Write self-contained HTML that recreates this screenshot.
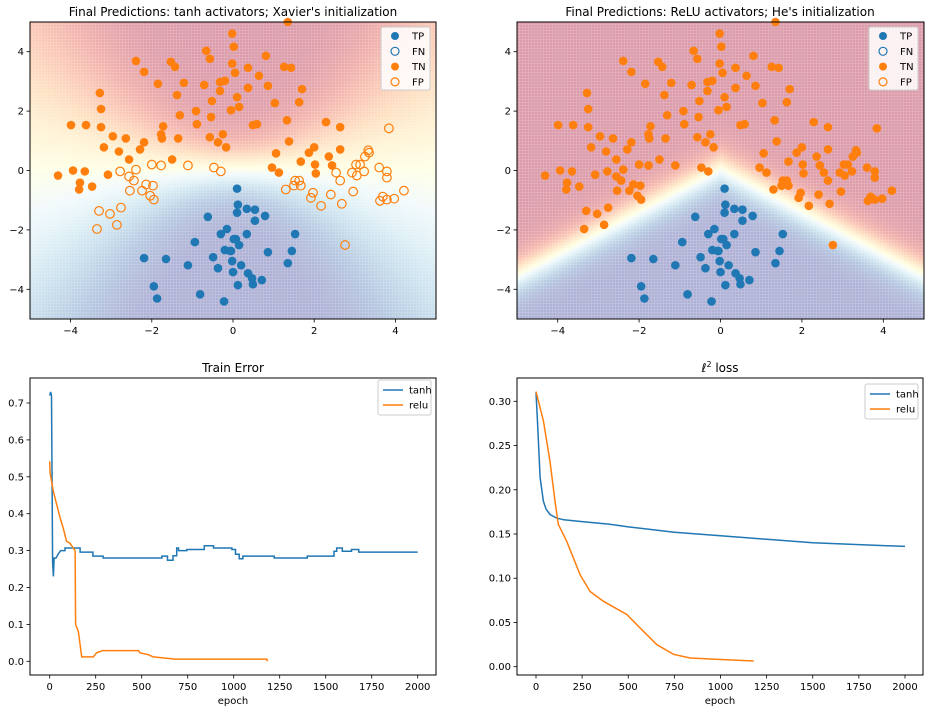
<!DOCTYPE html>
<html><head><meta charset="utf-8">
<style>
body{margin:0;background:#fff;}
#wrap{position:relative;width:930px;height:713px;overflow:hidden;font-family:"DejaVu Sans","Liberation Sans",sans-serif;}
canvas{position:absolute;}
svg{position:absolute;left:0;top:0;}
text{font-family:"DejaVu Sans","Liberation Sans",sans-serif;fill:#000;}
</style></head>
<body>
<div id="wrap">
<canvas id="bg1" width="406" height="297" style="left:30px;top:22px"></canvas>
<canvas id="bg2" width="407" height="297" style="left:517px;top:22px"></canvas>
<svg id="svg" width="930" height="713" xmlns="http://www.w3.org/2000/svg"></svg>
</div>
<script>
// ---- scatter data ----
const blueX=[0.1,0.12,0.1,0.34,0.54,0.54,0.79,0.34,1.53,0.07,0.15,0.86,1.45,1.35,-0.05,-0.02,0.2,0.0,0.37,0.47,0.49,0.71,0.12,-0.62,-0.3,-0.15,0.02,-0.94,-0.2,-0.07,-0.49,-0.37,-1.11,-1.65,-2.19,-1.95,-1.87,-0.81,-0.22];
const blueY=[-0.61,-1.15,-1.42,-1.29,-1.32,-1.69,-1.53,-2.14,-2.14,-2.31,-2.51,-2.75,-2.71,-3.12,-2.71,-3.05,-3.19,-3.42,-3.46,-3.63,-3.83,-3.69,-3.86,-1.56,-2.14,-1.97,-2.31,-2.41,-2.68,-2.71,-2.92,-3.29,-3.19,-2.98,-2.95,-3.9,-4.31,-4.17,-4.41];
const tnX=[0.96,1.13,1.06,1.38,1.67,1.87,2.0,2.02,2.04,2.36,2.44,2.64,2.29,2.64,1.33,1.63,1.7,1.03,0.86,0.64,0.81,1.26,1.43,1.35,0.37,0.37,0.1,0.15,0.49,0.59,0.05,-0.02,0.02,-0.02,-0.05,-0.66,-0.57,-2.39,-2.19,-1.53,-1.43,-1.85,-1.21,-0.71,-0.32,-0.2,-0.32,-1.38,-0.52,-0.91,-1.31,-0.54,-0.89,-3.28,-3.25,-3.99,-3.62,-3.25,-1.72,-1.77,-1.75,-1.35,-0.57,-0.25,-0.37,-0.17,-2.96,-2.64,-3.18,-2.81,-2.19,-2.29,-2.56,-1.5,-4.31,-3.94,-3.65,-3.77,-3.79,-3.47,-3.08];
const tnY=[0.1,-0.07,0.58,0.98,0.3,0.6,0.78,0.2,-0.1,0.47,0.17,0.71,1.63,1.46,1.69,2.3,2.74,2.27,2.85,3.19,3.86,3.49,3.46,5.0,3.46,2.78,2.47,2.14,1.53,1.56,3.29,3.6,4.17,4.61,2.03,4.03,3.76,3.69,3.32,3.66,3.49,2.92,2.95,2.88,2.98,3.02,2.68,2.54,2.34,2.0,1.86,1.8,1.56,2.61,2.07,1.53,1.53,1.46,1.49,1.22,1.08,1.08,1.12,1.22,0.95,0.78,1.15,1.08,0.78,0.64,0.95,0.71,0.37,0.37,-0.17,0.0,-0.03,-0.41,-0.64,-0.54,-0.14];
const fpX=[3.84,3.33,3.35,3.25,3.03,3.13,2.93,3.05,3.23,3.6,3.79,3.79,2.54,2.64,1.53,1.63,1.5,1.67,1.3,1.97,1.92,2.41,2.17,2.68,2.96,3.62,3.69,3.79,3.97,4.21,2.76,-2.78,-2.39,-2.56,-2.44,-2.14,-1.97,-2.54,-2.24,-2.04,-1.95,-2.0,-1.77,-1.11,-0.47,-0.3,-3.3,-3.03,-2.76,-3.35,-2.86];
const fpY=[1.42,0.68,0.6,0.47,0.2,0.2,-0.07,-0.17,-0.03,0.1,-0.03,-0.24,-0.07,-0.34,-0.34,-0.34,-0.51,-0.51,-0.64,-0.75,-0.92,-0.81,-1.19,-1.12,-0.71,-1.02,-0.88,-0.98,-0.95,-0.68,-2.51,-0.03,0.03,-0.2,-0.34,-0.47,-0.51,-0.68,-0.68,-0.85,-0.98,0.2,0.17,0.17,0.1,-0.03,-1.36,-1.46,-1.25,-1.97,-1.83];
// ---- train error data ----
const errTanhE=[0,5,10,16,20,24,35,45,60,83,147,165,225,235,265,290,580,610,640,670,690,700,745,830,840,880,890,960,990,1010,1030,1050,1160,1220,1380,1400,1530,1545,1560,1580,1590,1620,1640,1670,1680,2000];
const errTanhV=[0.72,0.73,0.72,0.27,0.23,0.28,0.28,0.29,0.30,0.307,0.307,0.296,0.296,0.285,0.285,0.28,0.28,0.285,0.274,0.286,0.307,0.30,0.303,0.303,0.313,0.313,0.307,0.307,0.303,0.29,0.278,0.285,0.285,0.28,0.28,0.285,0.285,0.298,0.307,0.307,0.298,0.298,0.303,0.303,0.296,0.296];
const errReluE=[0,2,20,38,56,74,92,110,128,138,141,156,165,174,237,255,288,482,491,536,563,681,1180,1183];
const errReluV=[0.542,0.51,0.46,0.425,0.39,0.36,0.325,0.32,0.307,0.30,0.1,0.08,0.045,0.012,0.012,0.023,0.029,0.029,0.023,0.018,0.012,0.006,0.006,0.0];
// ---- loss data ----
const lossTanhE=[0,10,22,40,55,76,112,150,250,400,500,750,1000,1250,1500,1750,2000];
const lossTanhV=[0.31,0.27,0.214,0.187,0.178,0.172,0.168,0.166,0.164,0.161,0.158,0.152,0.148,0.144,0.14,0.138,0.136];
const lossReluE=[0,40,76,103,121,166,239,293,365,492,582,655,745,836,1016,1180];
const lossReluV=[0.311,0.278,0.232,0.187,0.161,0.142,0.104,0.085,0.074,0.059,0.04,0.025,0.014,0.0098,0.008,0.0064];
const xTicksTop=[-4,-2,0,2,4], yTicksTop=[-4,-2,0,2,4];
const errTicks=[0,0.1,0.2,0.3,0.4,0.5,0.6,0.7];
const lossTicks=[0,0.05,0.10,0.15,0.20,0.25,0.30];
const epochTicks=[0,250,500,750,1000,1250,1500,1750,2000];

const svg=document.getElementById('svg');
const NS='http://www.w3.org/2000/svg';
function el(tag,attrs,parent){const e=document.createElementNS(NS,tag);for(const k in attrs)e.setAttribute(k,attrs[k]);(parent||svg).appendChild(e);return e;}
const BLUE='#1f77b4',ORANGE='#ff7f0e';

const stops=['#a50026','#d73027','#f46d43','#fdae61','#fee090','#ffffbf','#e0f3f8','#abd9e9','#74add1','#4575b4','#313695'].map(h=>[parseInt(h.slice(1,3),16),parseInt(h.slice(3,5),16),parseInt(h.slice(5,7),16)]);
function cmap(t){t=Math.max(0,Math.min(1,t))*10;const i=Math.min(9,Math.floor(t)),f=t-i;return stops[i].map((v,k)=>v+(stops[i+1][k]-v)*f);}
function paint(id,W,H,score){
  const c=document.getElementById(id),ctx=c.getContext('2d'),img=ctx.createImageData(W,H);
  for(let py=0;py<H;py++)for(let px=0;px<W;px++){
    const x=-5+10*px/W,y=5-10*py/H;const t=1/(1+Math.exp(score(x,y)));
    const col=cmap(t);const dot=((px%3)<2&&(py%3)<2)?0.42:0.30;
    const i=(py*W+px)*4;for(let k=0;k<3;k++)img.data[i+k]=col[k]*dot+255*(1-dot);img.data[i+3]=255;}
  ctx.putImageData(img,0,0);
}
paint('bg1',406,297,(x,y)=>2*(y-0.1)/(1+0.25*x*x));
paint('bg2',407,297,(x,y)=>2.8*(y-(0.1-0.72*Math.abs(x))));

function axesFrame(x0,y0,x1,y1,name){el('rect',{x:x0,y:y0,width:x1-x0,height:y1-y0,fill:'none',stroke:'#000','stroke-width':1,});}
function xtick(px,y,label){el('line',{x1:px,x2:px,y1:y,y2:y+3.5,stroke:'#000','stroke-width':0.8});const t=el('text',{x:px,y:y+15,'font-size':10,'text-anchor':'middle'});t.textContent=label;}
function ytick(x,py,label){el('line',{x1:x,x2:x-3.5,y1:py,y2:py,stroke:'#000','stroke-width':0.8});const t=el('text',{x:x-6,y:py+3.5,'font-size':10,'text-anchor':'end'});t.textContent=label;}
function title(x,y,s,name){const t=el('text',{x:x,y:y,'font-size':12,'text-anchor':'middle',});t.textContent=s;return t;}

function scatterPanel(x0,x1,tanh){
  const y0=22,y1=319;
  const sx=v=>x0+(v+5)/10*(x1-x0), sy=v=>y1-(v+5)/10*(y1-y0);
  const g=el('g',{});
  function dot(x,y,color,filled,name){const c=el('circle',{cx:sx(x),cy:sy(y),r:4.3,fill:filled?color:'none',stroke:color,'stroke-width':filled?0:1.2},g);}
  blueX.forEach((v,i)=>dot(v,blueY[i],BLUE,true,'tp-point'));
  tnX.forEach((v,i)=>dot(v,tnY[i],ORANGE,true,'tn-point'));
  fpX.forEach((v,i)=>dot(v,fpY[i],ORANGE,!tanh,tanh?'fp-point':'tn-point'));
  axesFrame(x0,y0,x1,y1,tanh?'tanh-axes':'relu-axes');
  xTicksTop.forEach(v=>xtick(sx(v),y1,String(v).replace('-','\u2212')));
  yTicksTop.forEach(v=>ytick(x0,sy(v),String(v).replace('-','\u2212')));
  const lx=x1-55,ly=27;
  el('rect',{x:lx,y:ly,width:49,height:63,fill:'#fff','fill-opacity':0.85,stroke:'#ccc',rx:2,});
  const items=[['TP',BLUE,true],['FN',BLUE,false],['TN',ORANGE,true],['FP',ORANGE,false]];
  items.forEach((it,i)=>{const cy=ly+9+i*15.3;el('circle',{cx:lx+14,cy:cy,r:4,fill:it[2]?it[1]:'none',stroke:it[1],'stroke-width':it[2]?0:1.2});const t=el('text',{x:lx+31,y:cy+3.5,'font-size':10});t.textContent=it[0];});
}
scatterPanel(30,436,true);
scatterPanel(517,924,false);
title(233,16,"Final Predictions: tanh activators; Xavier's initialization",'tanh-title');
title(720,16,"Final Predictions: ReLU activators; He's initialization",'relu-title');

function linePanel(x0,x1,y0,y1,e0px,e2000px,v0px,vTopPx,vTop,ticks,dec,series,name){
  const sx=e=>e0px+e/2000*(e2000px-e0px), sy=v=>v0px-v/vTop*(v0px-vTopPx);
  series.forEach(s=>{let d='';s.e.forEach((e,i)=>{d+=(i?'L':'M')+sx(e).toFixed(1)+','+sy(s.v[i]).toFixed(1);if(s.step&&s.e[i]>=60&&i<s.e.length-1)d+='L'+sx(s.e[i+1]).toFixed(1)+','+sy(s.v[i]).toFixed(1);});
    const p=el('path',{d:d,fill:'none',stroke:s.c,'stroke-width':1.5});});
  axesFrame(x0,y0,x1,y1,name+'-axes');
  epochTicks.forEach(v=>xtick(sx(v),y1,String(v)));
  ticks.forEach(v=>ytick(x0,sy(v),v.toFixed(dec)));
  const xl=el('text',{x:(x0+x1)/2,y:y1+29,'font-size':10,'text-anchor':'middle',});xl.textContent='epoch';
  const lx=x1-58,ly=y0+(name==='loss'?6:2);
  el('rect',{x:lx,y:ly,width:53,height:35,fill:'#fff','fill-opacity':0.85,stroke:'#ccc',rx:2,});
  series.forEach((s,i)=>{const cy=ly+10+i*15;el('line',{x1:lx+5,x2:lx+25,y1:cy,y2:cy,stroke:s.c,'stroke-width':1.5});const t=el('text',{x:lx+31,y:cy+3.5,'font-size':10});t.textContent=s.n;});
}
linePanel(30,436,378,675,49.7,417.7,661.3,403,0.7,errTicks,1,
  [{e:errTanhE,v:errTanhV,c:BLUE,n:'tanh',step:true},{e:errReluE,v:errReluV,c:ORANGE,n:'relu',step:false}],'train-error');
linePanel(517,923,378,675,536,905,666.7,401.3,0.30,lossTicks,2,
  [{e:lossTanhE,v:lossTanhV,c:BLUE,n:'tanh',step:false},{e:lossReluE,v:lossReluV,c:ORANGE,n:'relu',step:false}],'loss');
title(233,372,'Train Error','train-error-title');
const lt=title(720,372,'','loss-title');
lt.innerHTML='<tspan font-style="italic">ℓ</tspan><tspan font-size="8" dy="-5">2</tspan><tspan dy="5"> loss</tspan>';
</script>
</body></html>
